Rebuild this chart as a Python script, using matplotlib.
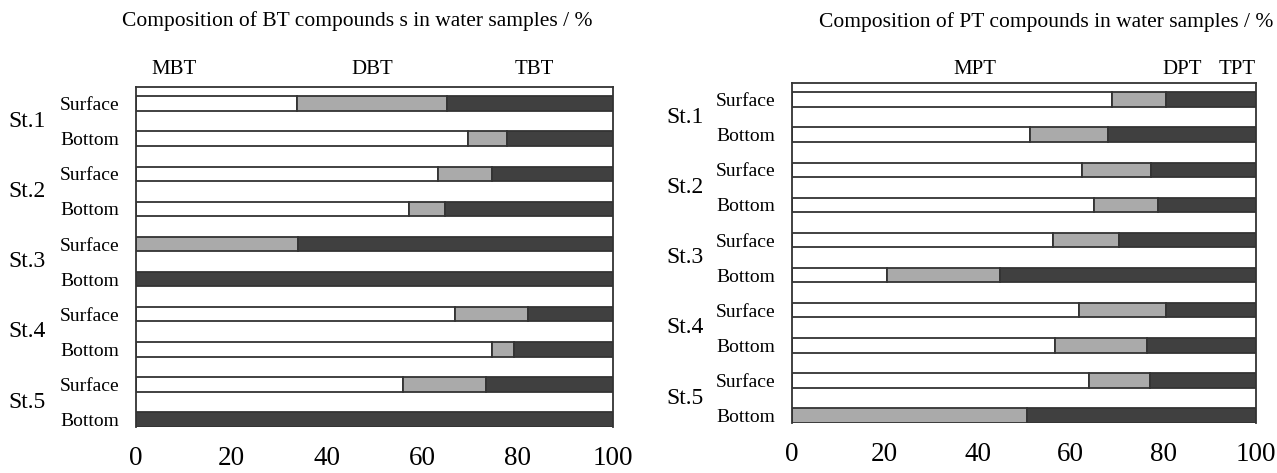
import matplotlib.pyplot as plt
import numpy as np

plt.rcParams['font.family'] = ['Liberation Serif', 'DejaVu Serif']

stations = ['St.1', 'St.2', 'St.3', 'St.4', 'St.5']
layers = ['Surface', 'Bottom']

# BT composition (%), rows: St.1 Surface, St.1 Bottom, ... St.5 Bottom
mbt = [33.8, 69.5, 63.4, 57.2, 0, 0, 66.9, 74.7, 56.0, 0]
dbt = [31.3, 8.3, 11.2, 7.6, 33.9, 0, 15.3, 4.5, 17.4, 0]
tbt = [34.9, 22.2, 25.4, 35.2, 66.1, 100, 17.8, 20.8, 26.6, 100]

# PT composition (%)
mpt = [68.9, 51.4, 62.6, 65.0, 56.2, 20.5, 61.8, 56.7, 64.0, 0]
dpt = [11.7, 16.7, 14.8, 13.9, 14.2, 24.3, 18.9, 19.8, 13.1, 50.7]
tpt = [19.4, 31.9, 22.6, 21.1, 29.6, 55.2, 19.3, 23.5, 22.9, 49.3]

bt_names = ['MBT', 'DBT', 'TBT']
pt_names = ['MPT', 'DPT', 'TPT']
colors = ['white', '#aaaaaa', '#404040']

fig = plt.figure(figsize=(12.77, 4.73), dpi=100)
ax1 = fig.add_axes([136/1277, 1-427/473, 477/1277, 340/473])
ax2 = fig.add_axes([792/1277, 1-423/473, 464/1277, 340/473])


def draw(ax, series, names, name_x, name_y, st_x):
    y = np.arange(len(series[0]))
    left = np.zeros(len(y))
    for vals, c in zip(series, colors):
        vals = np.array(vals)
        ax.barh(y, vals, left=left, height=0.41, color=c,
                edgecolor='#333333', linewidth=1.3)
        left += vals
    ax.set_xlim(0, 100)
    ax.set_ylim(9.21, -0.47)
    ax.set_xticks([0, 20, 40, 60, 80, 100])
    ax.tick_params(axis='x', length=0, labelsize=19.5, pad=14)
    ax.set_yticks(y)
    ax.set_yticklabels(layers * len(stations))
    ax.tick_params(axis='y', length=0, labelsize=14, pad=12)
    for s in ax.spines.values():
        s.set_color('#333333')
        s.set_linewidth(1.3)
    ax.spines['bottom'].set_visible(False)
    for i, st in enumerate(stations):
        ax.text(st_x, 2 * i + 0.5, st, transform=ax.get_yaxis_transform(),
                fontsize=17, va='center', ha='left')
    for n, x in zip(names, name_x):
        ax.text(x, name_y, n, transform=ax.transAxes, fontsize=15,
                ha='center', va='center')


draw(ax1, [mbt, dbt, tbt], bt_names, [0.08, 0.496, 0.836], 1.05, -0.267)
draw(ax2, [mpt, dpt, tpt], pt_names, [0.395, 0.841, 0.96], 1.04, -0.27)

fig.text(357/1277, 1-21/473, 'Composition of BT compounds s in water samples / %',
         fontsize=15.5, ha='center', va='center')
fig.text(1046/1277, 1-22/473, 'Composition of PT compounds in water samples / %',
         fontsize=15.5, ha='center', va='center')

fig.savefig('out.png', dpi=100)
